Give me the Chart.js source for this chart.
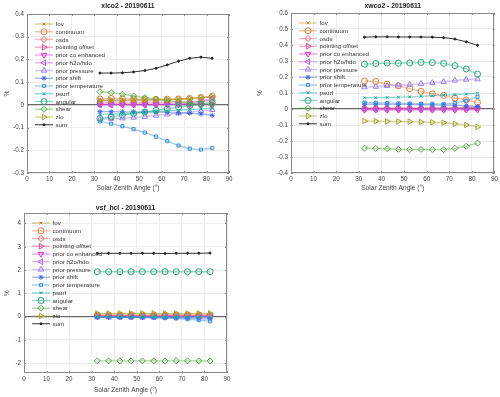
<!DOCTYPE html>
<html>
<head>
<meta charset="utf-8">
<script src="https://cdn.jsdelivr.net/npm/chart.js@4"></script>
<style>
  body { margin: 0; background: #fff; width: 500px; height: 397px; position: relative; overflow: hidden; }
  .box { position: absolute; }
</style>
</head>
<body>
<div class="box" style="left:0;top:0;width:250px;height:198px"><canvas id="c1"></canvas></div>
<div class="box" style="left:250px;top:0;width:250px;height:198px"><canvas id="c2"></canvas></div>
<div class="box" style="left:0;top:198px;width:250px;height:199px"><canvas id="c3"></canvas></div>
<script>
const angles = [32.5, 37.5, 42.5, 47.5, 52.5, 57.5, 62.5, 67.5, 72.5, 77.5, 82.5];
const names = ["fov", "continuum", "osds", "pointing offset", "prior co enhanced", "prior h2o/hdo",
  "prior pressure", "prior shift", "prior temperature", "psurf", "angular", "shear", "zlo", "sum"];
const xTicks = [0, 10, 20, 30, 40, 50, 60, 70, 80, 90];

// xlco2 - 20190611 (%)
const xlco2Fov = [0.018, 0.019, 0.019, 0.02, 0.02, 0.021, 0.022, 0.024, 0.027, 0.031, 0.036];
const xlco2Continuum = [0.026, 0.028, 0.027, 0.026, 0.025, 0.024, 0.025, 0.026, 0.028, 0.032, 0.037];
const xlco2Osds = [0.012, 0.012, 0.012, 0.012, 0.012, 0.012, 0.012, 0.012, 0.013, 0.015, 0.02];
const xlco2Pointing = [0.004, 0.004, 0.004, 0.004, 0.004, 0.004, 0.004, 0.003, 0.003, 0.003, 0.002];
const xlco2Co = [0.001, 0.001, 0.001, 0.001, 0.001, 0.001, 0.001, 0.001, 0.001, 0, 0];
const xlco2H2o = [0, 0, 0, 0, 0, 0, 0.001, 0.003, 0.006, 0.013, 0.03];
const xlco2Pressure = [-0.063, -0.061, -0.059, -0.056, -0.052, -0.047, -0.042, -0.037, -0.032, -0.027, -0.022];
const xlco2Shift = [-0.03, -0.03, -0.031, -0.031, -0.031, -0.032, -0.033, -0.035, -0.037, -0.04, -0.046];
const xlco2Temp = [-0.073, -0.083, -0.094, -0.107, -0.122, -0.14, -0.16, -0.179, -0.193, -0.197, -0.19];
const xlco2Psurf = [-0.042, -0.041, -0.039, -0.036, -0.033, -0.03, -0.027, -0.024, -0.021, -0.018, -0.015];
const xlco2Angular = [-0.06, -0.053, -0.045, -0.038, -0.031, -0.024, -0.017, -0.01, -0.003, 0.003, 0.01];
const xlco2Shear = [0.058, 0.054, 0.047, 0.039, 0.032, 0.025, 0.019, 0.013, 0.008, 0.004, 0.002];
const xlco2Zlo = [0.02, 0.021, 0.021, 0.022, 0.022, 0.023, 0.024, 0.026, 0.028, 0.032, 0.036];
const xlco2Sum = [0.14, 0.14, 0.141, 0.145, 0.151, 0.161, 0.176, 0.192, 0.205, 0.21, 0.205];

// xwco2 - 20190611 (%)
const xwco2Fov = [0.004, 0.004, 0.004, 0.004, 0.004, 0.004, 0.004, 0.004, 0.005, 0.006, 0.008];
const xwco2Continuum = [0.175, 0.172, 0.155, 0.145, 0.127, 0.11, 0.095, 0.085, 0.068, 0.057, 0.04];
const xwco2Osds = [0.006, 0.006, 0.006, 0.006, 0.006, 0.006, 0.006, 0.006, 0.007, 0.009, 0.012];
const xwco2Pointing = [0.002, 0.002, 0.002, 0.002, 0.002, 0.002, 0.002, 0.002, 0.002, 0.002, 0.002];
const xwco2Co = [-0.006, -0.006, -0.006, -0.006, -0.006, -0.006, -0.006, -0.006, -0.006, -0.005, -0.005];
const xwco2H2o = [-0.002, -0.002, -0.002, -0.002, -0.002, -0.002, -0.001, 0, 0.002, 0.005, 0.01];
const xwco2Pressure = [0.136, 0.14, 0.145, 0.148, 0.152, 0.158, 0.164, 0.17, 0.178, 0.184, 0.186];
const xwco2Shift = [0.03, 0.03, 0.029, 0.029, 0.028, 0.027, 0.026, 0.025, 0.023, 0.02, 0.016];
const xwco2Temp = [0.04, 0.039, 0.037, 0.035, 0.034, 0.033, 0.032, 0.032, 0.037, 0.052, 0.076];
const xwco2Psurf = [0.07, 0.071, 0.072, 0.074, 0.076, 0.079, 0.083, 0.086, 0.09, 0.094, 0.099];
const xwco2Angular = [0.28, 0.284, 0.287, 0.286, 0.288, 0.291, 0.29, 0.285, 0.271, 0.25, 0.218];
const xwco2Shear = [-0.245, -0.246, -0.248, -0.252, -0.254, -0.253, -0.254, -0.254, -0.246, -0.233, -0.213];
const xwco2Zlo = [-0.075, -0.076, -0.077, -0.078, -0.079, -0.081, -0.083, -0.086, -0.092, -0.1, -0.112];
const xwco2Sum = [0.449, 0.451, 0.451, 0.45, 0.45, 0.45, 0.449, 0.446, 0.437, 0.42, 0.398];

// vsf_hcl - 20190611 (%)
const hclFov = [0.11, 0.11, 0.11, 0.11, 0.11, 0.11, 0.11, 0.11, 0.11, 0.11, 0.11];
const hclContinuum = [0.06, 0.06, 0.06, 0.06, 0.06, 0.06, 0.06, 0.06, 0.06, 0.06, 0.06];
const hclOsds = [0.03, 0.03, 0.03, 0.03, 0.03, 0.03, 0.03, 0.03, 0.03, 0.03, 0.03];
const hclPointing = [0.02, 0.02, 0.02, 0.02, 0.02, 0.02, 0.02, 0.02, 0.02, 0.02, 0.02];
const hclCo = [0.01, 0.01, 0.01, 0.01, 0.01, 0.01, 0.01, 0.01, 0.01, 0.01, 0.01];
const hclH2o = [0, 0, 0, 0, 0, 0, 0, 0, 0, 0, 0];
const hclPressure = [-0.02, -0.02, -0.02, -0.02, -0.02, -0.02, -0.02, -0.02, -0.02, -0.02, -0.02];
const hclShift = [-0.03, -0.03, -0.03, -0.03, -0.04, -0.04, -0.05, -0.05, -0.06, -0.08, -0.1];
const hclTemp = [-0.01, -0.01, -0.02, -0.02, -0.03, -0.04, -0.06, -0.08, -0.11, -0.15, -0.2];
const hclPsurf = [-0.01, -0.01, -0.01, -0.01, -0.01, -0.01, -0.01, -0.01, -0.01, -0.01, -0.01];
const hclAngular = [1.93, 1.93, 1.93, 1.93, 1.93, 1.93, 1.93, 1.93, 1.93, 1.93, 1.93];
const hclShear = [-1.9, -1.9, -1.9, -1.9, -1.9, -1.9, -1.9, -1.9, -1.9, -1.9, -1.9];
const hclZlo = [0.14, 0.14, 0.14, 0.14, 0.14, 0.14, 0.14, 0.14, 0.14, 0.14, 0.14];
const hclSum = [2.72, 2.72, 2.72, 2.72, 2.72, 2.72, 2.71, 2.72, 2.72, 2.72, 2.73];
const hclYTicks = [-2, -1, 0, 1, 2, 3, 4];

const colors = ["#b48a2c", "#e07b39", "#e35d6a", "#e8458b", "#d42fd0", "#b85ce0",
  "#9a7ef0", "#3f66e0", "#3a8fd8", "#17a3a6", "#1fa67c", "#4aa83a", "#a3a328", "#222222"];
const styles = [
  { s: "crossRot", r: 2, rot: 0 }, { s: "circle", r: 3, rot: 0 }, { s: "rectRot", r: 3, rot: 0 },
  { s: "triangle", r: 3.2, rot: 90 }, { s: "triangle", r: 3.2, rot: 180 }, { s: "triangle", r: 3.2, rot: 270 },
  { s: "triangle", r: 3.2, rot: 0 }, { s: "star", r: 2.5, rot: 0 }, { s: "rect", r: 2.2, rot: 0 },
  { s: "crossRot", r: 2, rot: 0 }, { s: "circle", r: 3, rot: 0 }, { s: "rectRot", r: 3, rot: 0 },
  { s: "triangle", r: 3.2, rot: 90 }, { s: "circle", r: 1, rot: 0 }
];
const FONT = "'Liberation Sans', Arial, sans-serif";

function rgba(hex, a) {
  const n = parseInt(hex.slice(1), 16);
  return `rgba(${n >> 16},${(n >> 8) & 255},${n & 255},${a})`;
}

function makeDatasets(series) {
  return series.map((vals, i) => ({
    label: names[i],
    data: vals.map((v, j) => ({ x: angles[j], y: v })),
    borderColor: i == 13 ? "#333" : rgba(colors[i], 0.45),
    borderWidth: i == 13 ? 1 : 1.4,
    pointStyle: styles[i].s,
    pointRotation: styles[i].rot,
    pointRadius: styles[i].r,
    pointBorderColor: colors[i],
    pointBackgroundColor: (i == 13 || i == 7) ? colors[i] : "rgba(0,0,0,0)",
    pointBorderWidth: 1,
    order: names.length - i
  }));
}

// frame, inward ticks, title and legend inside the axes
const decor = {
  id: "decor",
  afterDatasetsDraw(chart, args, o) {
    const { ctx, chartArea: a, scales } = chart;
    ctx.save();
    ctx.strokeStyle = "#8a8a8a";
    ctx.lineWidth = 1;
    ctx.strokeRect(Math.round(a.left) + 0.5, Math.round(a.top) + 0.5,
      Math.round(a.right - a.left) - 1, Math.round(a.bottom - a.top) - 1);
    ctx.beginPath();
    scales.x.ticks.forEach(t => {
      const px = Math.round(scales.x.getPixelForValue(t.value)) + 0.5;
      ctx.moveTo(px, a.bottom); ctx.lineTo(px, a.bottom - 2);
      ctx.moveTo(px, a.top); ctx.lineTo(px, a.top + 2);
    });
    scales.y.ticks.forEach(t => {
      const py = Math.round(scales.y.getPixelForValue(t.value)) + 0.5;
      ctx.moveTo(a.left, py); ctx.lineTo(a.left + 2, py);
      ctx.moveTo(a.right, py); ctx.lineTo(a.right - 2, py);
    });
    ctx.stroke();

    ctx.fillStyle = "#222";
    ctx.font = "bold 6.8px " + FONT;
    ctx.textAlign = "center";
    ctx.textBaseline = "middle";
    ctx.fillText(o.title, (a.left + a.right) / 2, o.titleY);

    ctx.font = "6.2px " + FONT;
    ctx.textAlign = "left";
    chart.data.datasets.forEach((ds, i) => {
      const y = a.top + 10 + i * 7.75;
      const x0 = a.left + 8, x1 = a.left + 26;
      ctx.strokeStyle = ds.borderColor;
      ctx.lineWidth = ds.borderWidth;
      ctx.beginPath(); ctx.moveTo(x0, y); ctx.lineTo(x1, y); ctx.stroke();
      ctx.strokeStyle = ds.pointBorderColor;
      ctx.fillStyle = ds.pointBackgroundColor;
      ctx.lineWidth = 1;
      Chart.helpers.drawPoint(ctx, { pointStyle: ds.pointStyle, rotation: ds.pointRotation,
        radius: ds.pointRadius, borderWidth: 1 }, (x0 + x1) / 2, y);
      ctx.fillStyle = "#333";
      ctx.fillText(ds.label, a.left + 28.5, y + 0.5);
    });
    ctx.restore();
  }
};

function makeChart(id, series, g) {
  new Chart(document.getElementById(id), {
    type: "line",
    data: { datasets: makeDatasets(series) },
    plugins: [decor],
    options: {
      responsive: true,
      maintainAspectRatio: false,
      animation: false,
      layout: { padding: { top: g.padTop, right: g.padRight, left: 0, bottom: 0 } },
      plugins: {
        legend: { display: false },
        tooltip: { enabled: false },
        decor: { title: g.title, titleY: g.titleY }
      },
      scales: {
        x: {
          type: "linear", min: 0, max: 90,
          afterBuildTicks: s => { s.ticks = xTicks.map(v => ({ value: v })); },
          afterFit: s => { s.height = g.xHeight; },
          grid: { color: "#ececec", lineWidth: 1, drawTicks: false },
          border: { display: false },
          ticks: { color: "#444", font: { family: FONT, size: 6.3 }, padding: 2, maxRotation: 0 },
          title: { display: true, text: "Solar Zenith Angle (°)", color: "#444",
            font: { family: FONT, size: 6.6 }, padding: { top: 0, bottom: g.xTitlePad } }
        },
        y: {
          min: g.yMin, max: g.yMax,
          afterBuildTicks: s => { s.ticks = g.yTicks.map(v => ({ value: v })); },
          afterFit: s => { s.width = g.yWidth; },
          grid: {
            color: c => c.tick && c.tick.value === 0 ? "#6a6a6a" : "#ececec",
            lineWidth: c => c.tick && c.tick.value === 0 ? 1.3 : 1,
            drawTicks: false
          },
          border: { display: false },
          ticks: { color: "#444", font: { family: FONT, size: 6.3 }, padding: 3 },
          title: { display: true, text: "%", color: "#444",
            font: { family: FONT, size: 6.6 }, padding: { top: g.yTitlePad, bottom: 0 } }
        }
      }
    }
  });
}

makeChart("c1", [xlco2Fov, xlco2Continuum, xlco2Osds, xlco2Pointing, xlco2Co, xlco2H2o, xlco2Pressure,
  xlco2Shift, xlco2Temp, xlco2Psurf, xlco2Angular, xlco2Shear, xlco2Zlo, xlco2Sum], {
  title: "xlco2 - 20190611", titleY: 6.5, padTop: 14, padRight: 21, yWidth: 27, xHeight: 25,
  xTitlePad: 6, yTitlePad: 3, yMin: -0.3, yMax: 0.4,
  yTicks: [-0.3, -0.2, -0.1, 0, 0.1, 0.2, 0.3, 0.4]
});

makeChart("c2", [xwco2Fov, xwco2Continuum, xwco2Osds, xwco2Pointing, xwco2Co, xwco2H2o, xwco2Pressure,
  xwco2Shift, xwco2Temp, xwco2Psurf, xwco2Angular, xwco2Shear, xwco2Zlo, xwco2Sum], {
  title: "xwco2 - 20190611", titleY: 6, padTop: 13, padRight: 5, yWidth: 41, xHeight: 25,
  xTitlePad: 6, yTitlePad: 6, yMin: -0.4, yMax: 0.6,
  yTicks: [-0.4, -0.3, -0.2, -0.1, 0, 0.1, 0.2, 0.3, 0.4, 0.5, 0.6]
});

makeChart("c3", [hclFov, hclContinuum, hclOsds, hclPointing, hclCo, hclH2o, hclPressure,
  hclShift, hclTemp, hclPsurf, hclAngular, hclShear, hclZlo, hclSum], {
  title: "vsf_hcl - 20190611", titleY: 10, padTop: 15, padRight: 23, yWidth: 24, xHeight: 24,
  xTitlePad: 3, yTitlePad: 3.5, yMin: -2.42, yMax: 4.45, yTicks: hclYTicks
});
</script>
</body>
</html>
